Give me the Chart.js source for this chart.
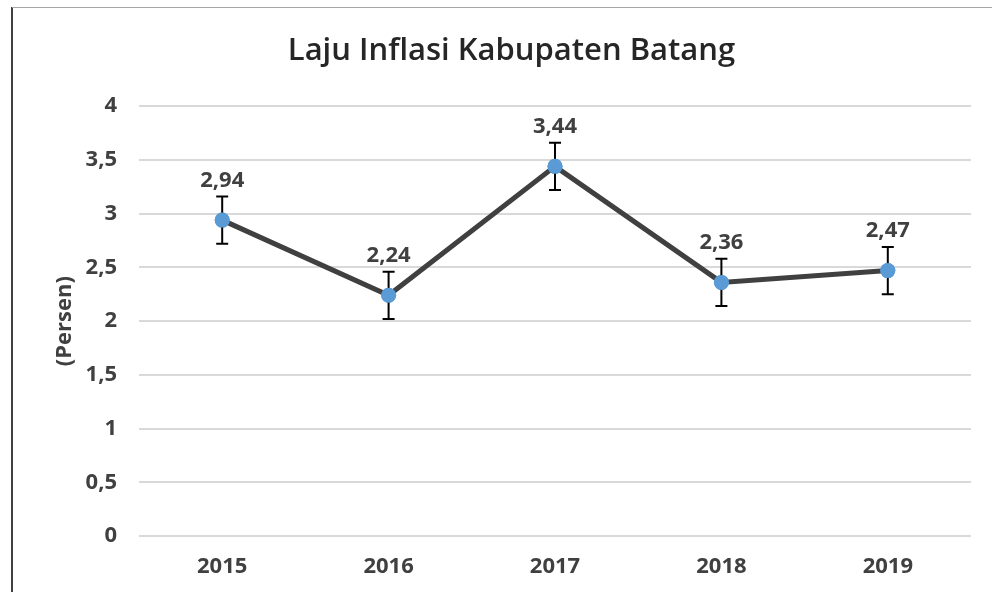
<!DOCTYPE html>
<html lang="id">
<head>
  <meta charset="UTF-8" />
  <title>Laju Inflasi Kabupaten Batang</title>
  <script src="https://cdn.jsdelivr.net/npm/chart.js"></script>
  <style>
    html, body { margin: 0; padding: 0; background: #fff; }
    .frame { position: relative; width: 992px; height: 592px; overflow: hidden; }
    .frame::before { content: ''; position: absolute; left: 11px; top: 7px; bottom: 0; width: 2px; background: #404040; }
    .frame::after { content: ''; position: absolute; left: 12px; right: 0; top: 7px; height: 1px; background: #a6a6a6; }
    canvas { position: absolute; left: 0; top: 0; }
  </style>
</head>
<body>
  <div class="frame"><canvas id="chart" width="992" height="592"></canvas></div>
  <script>
    // data
    const years = ['2015', '2016', '2017', '2018', '2019'];
    const inflasi = [2.94, 2.24, 3.44, 2.36, 2.47];
    const galat = [0.22, 0.22, 0.22, 0.22, 0.22];
    const yTicks = [0, 0.5, 1, 1.5, 2, 2.5, 3, 3.5, 4];

    const txt = '#404040';
    const fam = '"Open Sans"';
    const fmt = v => String(v).replace('.', ',');

    // error bars + value labels, positioned through the scales
    const errorBars = {
      id: 'errorBars',
      afterDatasetsDraw(chart) {
        const ctx = chart.ctx;
        const x = chart.scales.x, y = chart.scales.y;
        ctx.save();
        ctx.strokeStyle = '#000';
        ctx.lineWidth = 2;
        inflasi.forEach((v, i) => {
          const px = x.getPixelForValue(i);
          const top = y.getPixelForValue(v + galat[i]);
          const bot = y.getPixelForValue(v - galat[i]);
          ctx.beginPath();
          ctx.moveTo(px, top); ctx.lineTo(px, bot);
          ctx.moveTo(px - 6, top); ctx.lineTo(px + 6, top);
          ctx.moveTo(px - 6, bot); ctx.lineTo(px + 6, bot);
          ctx.stroke();
        });
        // redraw points on top of error bars
        const meta = chart.getDatasetMeta(0);
        ctx.fillStyle = '#5b9bd5';
        meta.data.forEach(p => {
          ctx.beginPath();
          ctx.arc(p.x, p.y, 7.5, 0, Math.PI * 2);
          ctx.fill();
        });
        ctx.fillStyle = txt;
        ctx.font = 'bold 22px ' + fam;
        ctx.textAlign = 'center';
        ctx.textBaseline = 'bottom';
        inflasi.forEach((v, i) => {
          const px = x.getPixelForValue(i);
          const top = y.getPixelForValue(v + galat[i]);
          ctx.fillText(fmt(v), px, top - 5);
        });
        ctx.restore();
      }
    };

    new Chart(document.getElementById('chart'), {
      type: 'line',
      data: {
        labels: years,
        datasets: [{
          data: inflasi,
          borderColor: '#404040',
          borderWidth: 5,
          pointRadius: 7.5,
          pointBackgroundColor: '#5b9bd5',
          pointBorderWidth: 0,
          tension: 0
        }]
      },
      options: {
        responsive: false,
        animation: false,
        layout: { padding: { left: 52, right: 21, top: 0, bottom: 0 } },
        plugins: {
          legend: { display: false },
          tooltip: { enabled: false },
          title: {
            display: true,
            text: 'Laju Inflasi Kabupaten Batang',
            color: '#262626',
            font: { family: fam, size: 31, weight: '600' },
            padding: { top: 33, bottom: 36 }
          }
        },
        scales: {
          x: {
            offset: true,
            grid: { display: false },
            border: { display: false },
            ticks: { color: txt, font: { family: fam, size: 22, weight: 'bold' }, padding: 10 },
            afterFit(s) { s.height = 56; }
          },
          y: {
            min: 0,
            max: 4,
            afterBuildTicks(s) { s.ticks = yTicks.map(v => ({ value: v })); },
            grid: { color: '#d9d9d9', lineWidth: 2, drawTicks: false },
            border: { display: false },
            ticks: {
              color: txt,
              font: { family: fam, size: 22, weight: 'bold' },
              padding: 22,
              callback: v => fmt(v)
            },
            title: {
              display: true,
              text: '(Persen)',
              color: txt,
              font: { family: fam, size: 22, weight: 'bold' },
              padding: 0
            },
            afterFit(s) { s.width = 87; }
          }
        }
      },
      plugins: [errorBars]
    });
  </script>
</body>
</html>
